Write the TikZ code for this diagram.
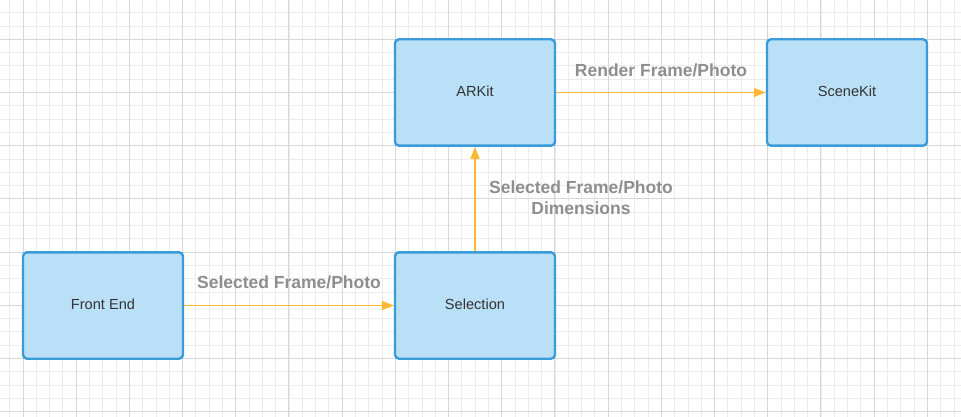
\documentclass[tikz,border=0pt]{standalone}
\usepackage{fontspec}
\setmainfont{Liberation Sans}
\usetikzlibrary{arrows.meta}
\definecolor{gridminor}{HTML}{ECECEC}
\definecolor{gridmajor}{HTML}{D8D8D8}
\definecolor{boxfill}{HTML}{B9E0F6}
\definecolor{boxline}{HTML}{3A9BDA}
\definecolor{arrowcol}{HTML}{FFB833}
\definecolor{labelcol}{HTML}{8E8E8E}
\definecolor{textcol}{HTML}{333333}
\tikzset{
  minorline/.style={draw=gridminor, line width=1pt},
  majorline/.style={draw=gridmajor, line width=1.4pt},
  procbox/.style={draw=boxline, fill=boxfill, line width=2.4pt, rounded corners=4pt,
    minimum width=160pt, minimum height=106.4pt, inner sep=0pt,
    font=\fontsize{14.6}{17}\selectfont, text=textcol},
  flow/.style={draw=arrowcol, line width=1.4pt, -{Triangle[length=12pt,width=9pt]}},
  flowlabel/.style={font=\fontsize{17.5}{20.7}\selectfont\bfseries, text=labelcol, inner sep=0pt, align=center}
}
\begin{document}
\begin{tikzpicture}[x=1pt,y=-1pt]
\useasboundingbox (0,0) rectangle (961,417);
\fill[white] (0,0) rectangle (961,417);
\foreach \i in {-1,...,71} {
  \pgfmathsetmacro\gx{floor(23+13.3*\i)+0.5}
  \draw[minorline] (\gx,0) -- (\gx,417);
}
\foreach \j in {-3,...,28} {
  \pgfmathsetmacro\gy{floor(39.3+13.3*\j)+0.5}
  \draw[minorline] (0,\gy) -- (961,\gy);
}
\foreach \i in {0,...,17} {
  \pgfmathsetmacro\gx{floor(23+53.2*\i)+0.5}
  \draw[majorline] (\gx,0) -- (\gx,417);
}
\foreach \j in {0,...,7} {
  \pgfmathsetmacro\gy{floor(39.3+53.2*\j)+0.5}
  \draw[majorline] (0,\gy) -- (961,\gy);
}
\node[procbox] (front) at (103,305.5) {\raisebox{3pt}{Front End}};
\node[procbox] (sel) at (475,305.5) {\raisebox{3pt}{Selection}};
\node[procbox] (ark) at (475,92.5) {\raisebox{3pt}{ARKit}};
\node[procbox] (scene) at (847,92.5) {\raisebox{3pt}{SceneKit}};
\draw[flow] (front) -- (sel);
\draw[flow] (sel) -- (ark);
\draw[flow] (ark) -- (scene);
\node[flowlabel] (l1) at (289,282) {Selected Frame/Photo};
\node[flowlabel] (l2) at (661,70.5) {Render Frame/Photo};
\node[flowlabel] (l3) at (581,198) {Selected Frame/Photo\\Dimensions};
\end{tikzpicture}
\end{document}
